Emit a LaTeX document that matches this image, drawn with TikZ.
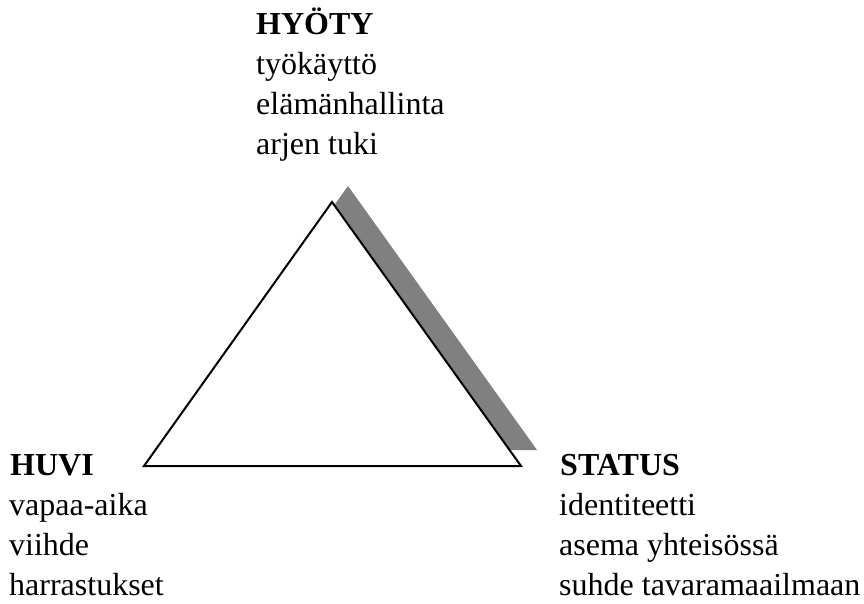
\documentclass[tikz,border=0pt]{standalone}
\usepackage{fontspec}
\setmainfont{Liberation Serif}
\begin{document}
\begin{tikzpicture}[x=1pt,y=-1pt,
  lbl/.style={anchor=base west,inner sep=0pt,font=\fontsize{32}{40}\selectfont},
  head/.style={lbl,font=\fontsize{32}{40}\selectfont\bfseries},
  tri/.style={draw=black,line width=2pt,fill=white,line join=miter},
  shade/.style={fill=gray!100!white,draw=none}]
\useasboundingbox (0,0) rectangle (864,604);
% triangle corners
\coordinate (top) at (332,202);
\coordinate (left) at (144,466);
\coordinate (right) at (521,466);
% drop shadow, offset up and to the right
\fill[fill={rgb,255:red,128;green,128;blue,128}] ([shift={(16,-16)}]top) -- ([shift={(16,-16)}]left) -- ([shift={(16,-16)}]right) -- cycle;
\draw[tri] (top) -- (left) -- (right) -- cycle;
% HYÖTY
\node[head] (hyoty) at (256,35) {HYÖTY};
\node[lbl] (hy1) at (256,75) {työkäyttö};
\node[lbl] (hy2) at (256,115) {elämänhallinta};
\node[lbl] (hy3) at (256,155) {arjen tuki};
% HUVI
\node[head] (huvi) at (10,475) {HUVI};
\node[lbl] (hu1) at (9,515) {vapaa-aika};
\node[lbl] (hu2) at (9,555) {viihde};
\node[lbl] (hu3) at (9,595) {harrastukset};
% STATUS
\node[head] (status) at (560,475) {STATUS};
\node[lbl] (st1) at (559,515) {identiteetti};
\node[lbl] (st2) at (559,555) {asema yhteisössä};
\node[lbl] (st3) at (559,595) {suhde tavaramaailmaan};
\end{tikzpicture}
\end{document}
